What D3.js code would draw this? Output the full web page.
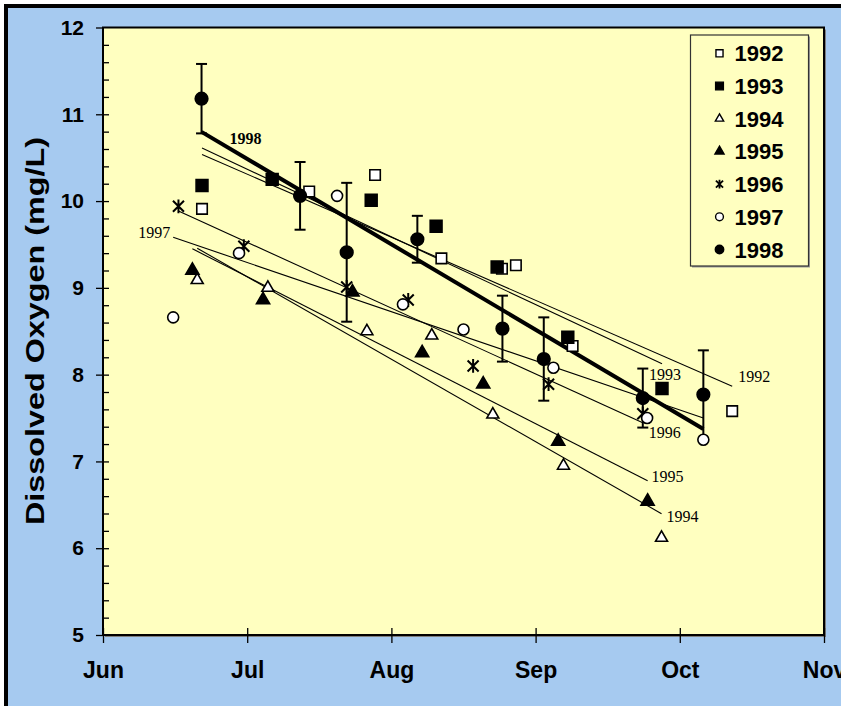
<!DOCTYPE html>
<html>
<head>
<meta charset="utf-8">
<script src="https://cdn.jsdelivr.net/npm/d3@7"></script>
<style>
  body { margin: 0; background: #fff; }
  svg { display: block; }
</style>
</head>
<body>
<svg id="chart" width="841" height="706"></svg>
<script>
// days counted from Jun 1 (axis uses 30-day months)
const years = ['1992', '1993', '1994', '1995', '1996', '1997', '1998'];
const monthLabels = ['Jun', 'Jul', 'Aug', 'Sep', 'Oct', 'Nov'];
const monthDays = [0, 30, 60, 90, 120, 150];
const yTicks = [5, 6, 7, 8, 9, 10, 11, 12];

const day1992 = [20.6, 42.9, 56.6, 70.4, 83.0, 85.9, 97.7, 130.9];
const do1992 = [9.91, 10.11, 10.30, 9.34, 9.22, 9.26, 8.33, 7.58];
const day1993 = [20.6, 35.2, 55.8, 69.3, 82.0, 96.7, 116.3];
const do1993 = [10.18, 10.25, 10.01, 9.71, 9.24, 8.43, 7.84];
const day1994 = [19.6, 34.3, 54.9, 68.4, 81.1, 95.8, 116.2];
const do1994 = [9.09, 9.00, 8.50, 8.45, 7.54, 6.95, 6.12];
const day1995 = [18.6, 33.3, 51.9, 66.4, 79.1, 94.7, 113.3];
const do1995 = [9.20, 8.86, 8.95, 8.25, 7.89, 7.23, 6.54];
const day1996 = [15.7, 29.3, 50.7, 63.5, 77.0, 92.7, 112.3];
const do1996 = [9.94, 9.48, 9.01, 8.86, 8.10, 7.89, 7.55];
const day1997 = [14.6, 28.3, 48.7, 62.4, 75.0, 93.7, 113.2, 124.9];
const do1997 = [8.66, 9.40, 10.06, 8.81, 8.52, 8.08, 7.50, 7.25];
const day1998 = [20.5, 41.0, 50.7, 65.4, 83.1, 91.7, 112.3, 124.9];
const do1998 = [11.18, 10.06, 9.41, 9.56, 8.53, 8.18, 7.73, 7.77];
const err1998 = [0.40, 0.39, 0.80, 0.27, 0.38, 0.48, 0.34, 0.51];

const days = [day1992, day1993, day1994, day1995, day1996, day1997, day1998];
const vals = [do1992, do1993, do1994, do1995, do1996, do1997, do1998];

const MARGIN = { top: 27.5, right: 17, bottom: 71, left: 103 };
const W = 841, H = 706;
const plotW = W - MARGIN.left - MARGIN.right;
const plotH = H - MARGIN.top - MARGIN.bottom;
const FONT = 'Arial, "Liberation Sans", Helvetica, sans-serif';
const SERIF = '"Times New Roman", "Liberation Serif", serif';

// Excel style star marker: x with a vertical bar
const symbolStar = {
  draw(ctx, size) {
    const r = Math.sqrt(size) / 2;
    ctx.moveTo(0, -r); ctx.lineTo(0, r);
    ctx.moveTo(-r * 0.8, -r * 0.8); ctx.lineTo(r * 0.8, r * 0.8);
    ctx.moveTo(-r * 0.8, r * 0.8); ctx.lineTo(r * 0.8, -r * 0.8);
  }
};

const markers = {
  '1992': { type: d3.symbolSquare, fill: '#fff', size: 110, legendSize: 50 },
  '1993': { type: d3.symbolSquare, fill: '#000', size: 140, legendSize: 60 },
  '1994': { type: d3.symbolTriangle, fill: '#fff', size: 62, legendSize: 30 },
  '1995': { type: d3.symbolTriangle, fill: '#000', size: 75, legendSize: 36 },
  '1996': { type: symbolStar, fill: 'none', size: 190, legendSize: 80 },
  '1997': { type: d3.symbolCircle, fill: '#fff', size: 95, legendSize: 48 },
  '1998': { type: d3.symbolCircle, fill: '#000', size: 125, legendSize: 56 },
};

// where each trend label sits, relative to the line end it belongs to
const labelPlace = {
  '1992': { at: 1, dx: 6, dy: -9, anchor: 'start' },
  '1993': { at: 1, dx: -13, dy: 11, anchor: 'start' },
  '1994': { at: 1, dx: 5, dy: 3, anchor: 'start' },
  '1995': { at: 1, dx: 4, dy: -4, anchor: 'start' },
  '1996': { at: 1, dx: 6, dy: 10, anchor: 'start' },
  '1997': { at: 0, dx: -3, dy: -4, anchor: 'end' },
  '1998': { at: 0, dx: 28, dy: 7, anchor: 'start' },
};

const series = years.map((year, i) => ({
  year,
  points: days[i].map((d, j) => ({ day: d, value: vals[i][j], err: year === '1998' ? err1998[j] : null })),
}));

function trend(points) {
  const mx = d3.mean(points, (p) => p.day);
  const my = d3.mean(points, (p) => p.value);
  const slope = d3.sum(points, (p) => (p.day - mx) * (p.value - my)) / d3.sum(points, (p) => (p.day - mx) ** 2);
  const [x0, x1] = d3.extent(points, (p) => p.day);
  return [[x0, my + slope * (x0 - mx)], [x1, my + slope * (x1 - mx)]];
}

const xScale = d3.scaleLinear().domain([0, 150]).range([0, plotW]);
const yScale = d3.scaleLinear().domain([5, 12]).range([plotH, 0]);

const svg = d3.select('#chart');

// outer frame
svg.append('rect').attr('x', 6).attr('y', 6).attr('width', 900).attr('height', 900)
  .attr('fill', '#A6CAF0').attr('stroke', '#000').attr('stroke-width', 4);

const g = svg.append('g').attr('transform', `translate(${MARGIN.left},${MARGIN.top})`);

g.append('rect').attr('x', 2).attr('y', 2).attr('width', plotW).attr('height', plotH).attr('fill', '#7f7f7f');
g.append('rect').attr('width', plotW).attr('height', plotH)
  .attr('fill', '#FFFFC0').attr('stroke', '#000').attr('stroke-width', 2);

// y axis
const yAxis = g.append('g').call(d3.axisLeft(yScale).tickValues(yTicks).tickSize(7).tickPadding(12).tickFormat(d3.format('d')));
yAxis.select('.domain').remove();
yAxis.selectAll('line').attr('stroke-width', 1.3);
yAxis.selectAll('text').attr('font-family', FONT).attr('font-weight', 'bold').attr('font-size', 21).attr('fill', '#000');

const yMinor = g.append('g').call(d3.axisRight(yScale).tickValues(d3.range(5.2, 11.9, 0.2)).tickSize(6).tickFormat(''));
yMinor.select('.domain').remove();
yMinor.selectAll('line').attr('stroke-width', 1.3);

// x axis
const xAxis = g.append('g').attr('transform', `translate(0,${plotH})`)
  .call(d3.axisBottom(xScale).tickValues(monthDays).tickSize(8).tickPadding(19).tickFormat((d, i) => monthLabels[i]));
xAxis.select('.domain').remove();
xAxis.selectAll('line').attr('stroke-width', 1.3).attr('y1', -7);
xAxis.selectAll('text').attr('font-family', FONT).attr('font-weight', 'bold').attr('font-size', 23).attr('fill', '#000');

svg.append('text')
  .attr('transform', 'translate(44,331) rotate(-90)')
  .attr('text-anchor', 'middle')
  .attr('font-family', FONT).attr('font-weight', 'bold').attr('font-size', 26)
  .attr('textLength', 388).attr('lengthAdjust', 'spacingAndGlyphs')
  .text('Dissolved Oxygen (mg/L)');

// trend lines
const line = d3.line().x((d) => xScale(d[0])).y((d) => yScale(d[1]));
series.forEach((s) => {
  const t = trend(s.points);
  const bold = s.year === '1998';
  g.append('path').attr('d', line(t)).attr('fill', 'none').attr('stroke', '#000')
    .attr('stroke-width', bold ? 4 : 1.1);
  const lp = labelPlace[s.year];
  const end = t[lp.at];
  g.append('text')
    .attr('x', xScale(end[0]) + lp.dx)
    .attr('y', yScale(end[1]) + lp.dy + 5)
    .attr('text-anchor', lp.anchor)
    .attr('font-family', SERIF).attr('font-size', 16)
    .attr('font-weight', bold ? 'bold' : 'normal')
    .text(s.year);
});

// error bars for 1998
const s98 = series[6].points;
const eb = g.append('g').attr('stroke', '#000').attr('stroke-width', 2);
eb.selectAll('line.v').data(s98).join('line').attr('class', 'v')
  .attr('x1', (d) => xScale(d.day)).attr('x2', (d) => xScale(d.day))
  .attr('y1', (d) => yScale(d.value - d.err)).attr('y2', (d) => yScale(d.value + d.err));
['lo', 'hi'].forEach((k) => {
  eb.selectAll(`line.${k}`).data(s98).join('line').attr('class', k)
    .attr('x1', (d) => xScale(d.day) - 5.5).attr('x2', (d) => xScale(d.day) + 5.5)
    .attr('y1', (d) => yScale(k === 'lo' ? d.value - d.err : d.value + d.err))
    .attr('y2', (d) => yScale(k === 'lo' ? d.value - d.err : d.value + d.err));
});

// markers
series.forEach((s) => {
  const m = markers[s.year];
  g.append('g').selectAll('path').data(s.points).join('path')
    .attr('transform', (d) => `translate(${xScale(d.day)},${yScale(d.value)})`)
    .attr('d', d3.symbol().type(m.type).size(m.size))
    .attr('fill', m.fill).attr('stroke', '#000').attr('stroke-width', s.year === '1996' ? 2 : 1.6);
});

// legend
const legend = svg.append('g').attr('transform', 'translate(690.5,35)');
legend.append('rect').attr('x', 1.5).attr('y', 1.5).attr('width', 118).attr('height', 231).attr('fill', '#9a9a9a');
legend.append('rect').attr('width', 118).attr('height', 231)
  .attr('fill', '#FFFFC0').attr('stroke', '#333').attr('stroke-width', 1.2);
years.forEach((year, i) => {
  const m = markers[year];
  const row = legend.append('g').attr('transform', `translate(0,${18.3 + i * 32.7})`);
  row.append('path').attr('transform', 'translate(29,0)')
    .attr('d', d3.symbol().type(m.type).size(m.legendSize))
    .attr('fill', m.fill).attr('stroke', '#000').attr('stroke-width', year === '1996' ? 1.8 : 1.4);
  row.append('text').attr('x', 44).attr('y', 8)
    .attr('font-family', FONT).attr('font-weight', 'bold').attr('font-size', 22)
    .text(year);
});
</script>
</body>
</html>
